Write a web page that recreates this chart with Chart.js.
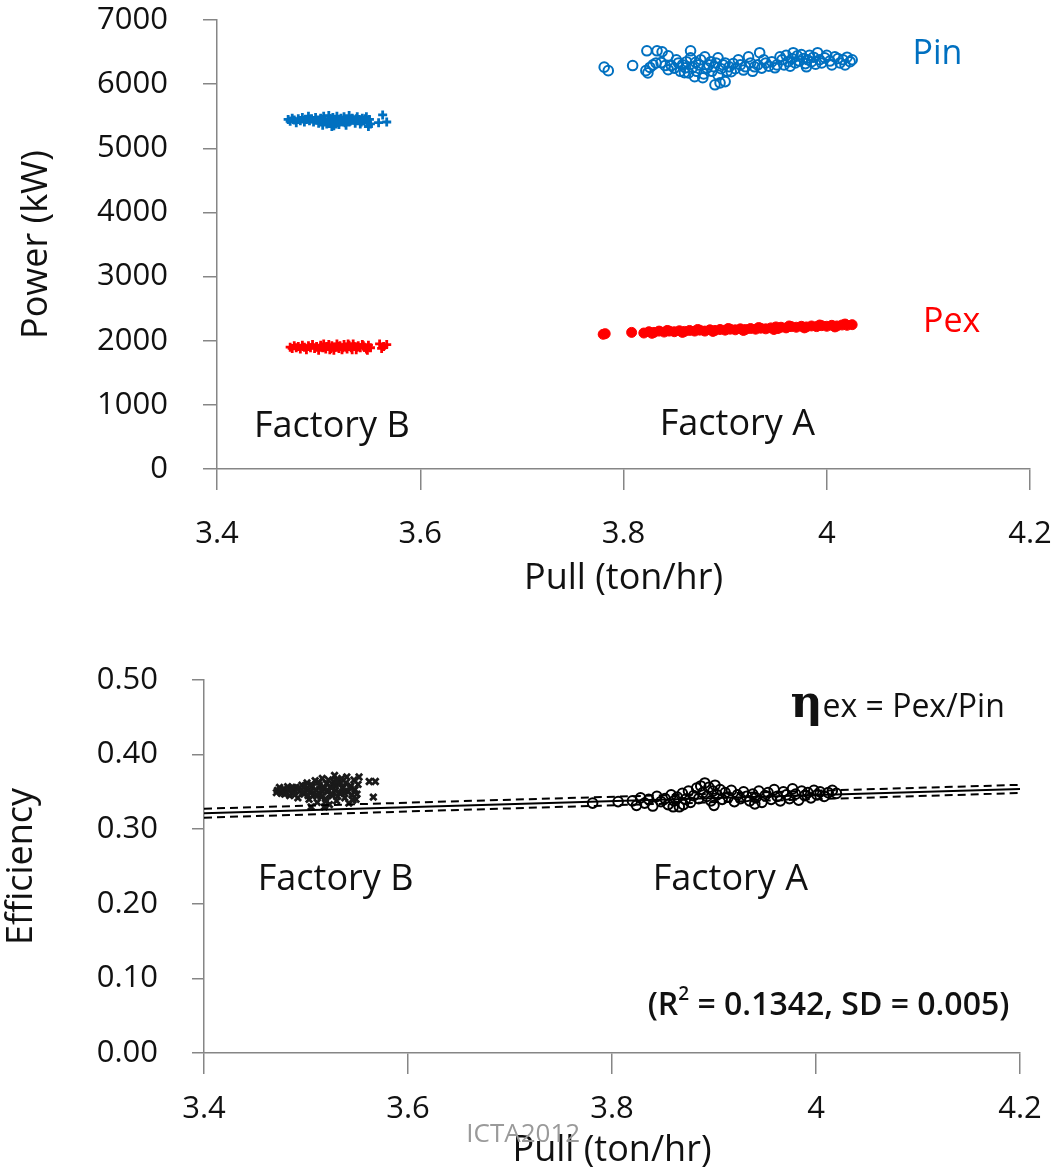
<!DOCTYPE html>
<html>
<head>
<meta charset="utf-8">
<script src="https://cdn.jsdelivr.net/npm/chart.js@4.4.1/dist/chart.umd.min.js"></script>
<style>
  html, body { margin: 0; padding: 0; background: #fff; }
  #wrap { position: relative; width: 1060px; height: 1168px; overflow: hidden; }
  #wrap canvas { position: absolute; left: 0; display: block; }
</style>
</head>
<body>
<div id="wrap">
  <canvas id="power" width="1060" height="620" style="top:0"></canvas>
  <canvas id="eff" width="1060" height="560" style="top:620px"></canvas>
</div>
<script>
/* Power and efficiency against pull rate, Factory A and Factory B.
   Points. */

// ---- top chart: power (kW) vs pull (ton/hr) ----
var pinB = [
  [3.470,5450],[3.472,5420],[3.474,5470],[3.476,5440],[3.478,5400],[3.480,5460],[3.482,5430],
  [3.484,5480],[3.486,5410],[3.488,5450],[3.490,5500],[3.491,5430],[3.493,5460],[3.495,5410],
  [3.497,5480],[3.499,5440],[3.500,5390],[3.502,5470],[3.503,5420],[3.505,5500],[3.506,5450],
  [3.508,5380],[3.509,5430],[3.510,5510],[3.511,5460],[3.512,5400],[3.514,5480],[3.515,5350],
  [3.516,5440],[3.518,5500],[3.519,5420],[3.520,5370],[3.522,5470],[3.523,5430],[3.525,5490],
  [3.526,5400],[3.528,5450],[3.530,5510],[3.531,5420],[3.533,5470],[3.535,5440],[3.536,5390],
  [3.538,5490],[3.540,5450],[3.542,5410],[3.543,5470],[3.545,5430],[3.547,5490],[3.548,5400],
  [3.550,5450],[3.551,5380],[3.563,5520],[3.559,5400],[3.567,5410],
  [3.504,5360],[3.513,5340],[3.517,5380],[3.521,5410],[3.527,5360],[3.532,5440],[3.537,5460],
  [3.541,5380],[3.546,5460],[3.549,5340]
];
var pexB = [
  [3.472,1900],[3.474,1880],[3.476,1920],[3.478,1890],[3.480,1910],[3.482,1870],[3.484,1930],
  [3.486,1900],[3.488,1860],[3.490,1920],[3.492,1890],[3.494,1940],[3.496,1880],[3.498,1910],
  [3.500,1850],[3.502,1930],[3.504,1890],[3.505,1950],[3.507,1870],[3.508,1910],[3.510,1940],
  [3.512,1880],[3.513,1920],[3.515,1850],[3.516,1900],[3.518,1950],[3.520,1880],[3.521,1920],
  [3.523,1860],[3.525,1940],[3.527,1900],[3.528,1870],[3.530,1930],[3.532,1890],[3.534,1950],
  [3.535,1910],[3.537,1860],[3.539,1920],[3.541,1890],[3.543,1940],[3.545,1900],[3.547,1870],
  [3.549,1930],[3.551,1890],[3.560,1950],[3.564,1910],[3.567,1940],[3.562,1880],
  [3.506,1900],[3.511,1860],[3.519,1910],[3.524,1890],[3.529,1950],[3.533,1860],[3.538,1900],
  [3.544,1920],[3.548,1850]
];
var pinA = [
  [3.781,6265],[3.785,6210],[3.809,6290],[3.823,6520],[3.833,6520],[3.838,6505],[3.844,6440],
  [3.822,6210],[3.824,6175],[3.832,6330],[3.837,6335],[3.844,6225],[3.854,6330],[3.866,6520],
  [3.866,6410],[3.861,6255],[3.864,6175],[3.870,6115],[3.878,6100],[3.890,5990],[3.895,6020],
  [3.900,6040],[3.880,6425],[3.886,6350],[3.893,6410],[3.900,6330],[3.906,6195],[3.913,6380],
  [3.920,6270],[3.923,6425],[3.929,6270],[3.934,6490],[3.940,6330],[3.949,6255],[3.954,6425],
  [3.962,6350],[3.967,6490],[3.975,6460],[3.981,6380],[3.980,6270],[3.991,6490],[3.998,6410],
  [4.008,6425],[4.016,6380],[4.018,6300],[4.023,6350],[4.025,6380],
  [3.850,6250],[3.856,6200],[3.858,6300],[3.862,6350],[3.868,6260],[3.872,6200],[3.874,6300],
  [3.876,6380],[3.879,6160],[3.882,6250],[3.884,6300],[3.887,6200],[3.889,6270],[3.891,6330],
  [3.893,6140],[3.896,6240],[3.898,6300],[3.902,6200],[3.904,6270],[3.908,6320],[3.910,6240],
  [3.915,6300],[3.918,6220],[3.925,6330],[3.927,6200],[3.932,6300],[3.936,6250],[3.938,6380],
  [3.943,6280],[3.946,6350],[3.951,6300],[3.956,6380],[3.958,6300],[3.960,6450],[3.964,6280],
  [3.966,6400],[3.969,6330],[3.971,6440],[3.973,6360],[3.977,6400],[3.979,6320],[3.983,6450],
  [3.985,6350],[3.987,6420],[3.989,6310],[3.993,6380],[3.995,6330],[4.000,6450],[4.003,6360],
  [4.005,6300],[4.011,6400],[4.013,6330],[4.020,6420],[3.847,6290],[3.852,6380],[3.826,6260],
  [3.829,6300],[3.841,6290],[3.860,6180],[3.871,6340]
];
var pexA = [
  [3.780,2100],[3.782,2110],[3.808,2130],[3.820,2120],[3.825,2140],[3.830,2130],[3.835,2150],
  [3.840,2135],[3.845,2150],[3.850,2140],[3.855,2155],[3.860,2145],[3.865,2160],[3.870,2150],
  [3.875,2165],[3.880,2150],[3.885,2170],[3.890,2160],[3.895,2175],[3.900,2165],[3.905,2180],
  [3.910,2170],[3.915,2185],[3.920,2175],[3.925,2190],[3.930,2180],[3.935,2195],[3.940,2185],
  [3.945,2200],[3.950,2215],[3.952,2190],[3.955,2210],[3.960,2200],[3.965,2220],[3.970,2210],
  [3.975,2225],[3.980,2215],[3.985,2230],[3.990,2220],[3.995,2235],[4.000,2225],[4.005,2240],
  [4.010,2230],[4.015,2245],[4.020,2240],[4.025,2250],[3.828,2115],[3.858,2130],[3.888,2145],
  [3.918,2160],[3.948,2175],[3.978,2200],[4.008,2215],[3.843,2160],[3.873,2175],[3.903,2190],
  [3.933,2205],[3.963,2230],[3.993,2245],[4.018,2260]
];

// ---- bottom chart: efficiency vs pull ----
var effB = [
  [3.472,0.352],[3.474,0.356],[3.476,0.348],[3.478,0.354],[3.480,0.350],[3.482,0.357],[3.484,0.345],
  [3.486,0.353],[3.488,0.349],[3.490,0.356],[3.492,0.342],[3.494,0.351],[3.496,0.359],[3.498,0.347],
  [3.500,0.354],[3.501,0.362],[3.503,0.340],[3.504,0.350],[3.506,0.357],[3.507,0.345],[3.509,0.365],
  [3.510,0.352],[3.511,0.336],[3.513,0.359],[3.514,0.347],[3.516,0.368],[3.517,0.354],[3.519,0.341],
  [3.520,0.361],[3.521,0.350],[3.523,0.333],[3.524,0.357],[3.526,0.345],[3.527,0.364],[3.529,0.352],
  [3.530,0.338],[3.532,0.360],[3.533,0.348],[3.535,0.368],[3.536,0.355],[3.538,0.342],[3.539,0.362],
  [3.541,0.350],[3.542,0.335],[3.544,0.358],[3.545,0.346],[3.547,0.366],[3.548,0.353],[3.549,0.340],
  [3.551,0.360],[3.552,0.370],[3.550,0.347],[3.562,0.364],[3.568,0.364],[3.566,0.343],[3.505,0.330],
  [3.528,0.372],[3.518,0.330],
  [3.471,0.349],[3.475,0.353],[3.479,0.347],[3.483,0.352],[3.487,0.356],[3.489,0.346],[3.493,0.355],
  [3.497,0.350],[3.499,0.358],[3.502,0.345],[3.505,0.360],[3.508,0.349],[3.512,0.363],[3.515,0.343],
  [3.518,0.356],[3.522,0.366],[3.525,0.348],[3.528,0.358],[3.531,0.344],[3.534,0.362],[3.537,0.351],
  [3.540,0.370],[3.543,0.356],[3.546,0.339],[3.515,0.352],[3.525,0.355],[3.535,0.349],[3.510,0.345],
  [3.520,0.338],[3.530,0.365]
];
var effA = [
  [3.781,0.335],[3.806,0.337],[3.820,0.338],[3.824,0.332],[3.828,0.342],[3.832,0.335],[3.836,0.340],
  [3.840,0.331],[3.844,0.344],[3.848,0.337],[3.852,0.341],[3.855,0.333],[3.858,0.346],[3.861,0.338],
  [3.864,0.343],[3.866,0.330],[3.869,0.348],[3.872,0.340],[3.875,0.351],[3.877,0.336],[3.880,0.345],
  [3.883,0.355],[3.885,0.341],[3.887,0.358],[3.889,0.349],[3.891,0.362],[3.893,0.344],[3.895,0.356],
  [3.897,0.338],[3.899,0.351],[3.901,0.359],[3.903,0.346],[3.906,0.353],[3.908,0.340],[3.911,0.349],
  [3.914,0.343],[3.917,0.352],[3.920,0.337],[3.923,0.346],[3.926,0.341],[3.929,0.350],[3.932,0.344],
  [3.935,0.338],[3.938,0.347],[3.941,0.342],[3.944,0.351],[3.947,0.336],[3.950,0.345],[3.953,0.349],
  [3.956,0.340],[3.959,0.353],[3.962,0.344],[3.965,0.338],[3.968,0.350],[3.971,0.346],[3.974,0.341],
  [3.977,0.354],[3.980,0.347],[3.983,0.339],[3.986,0.351],[3.989,0.345],[3.992,0.349],[3.995,0.342],
  [3.998,0.352],[4.001,0.346],[4.004,0.350],[4.008,0.344],[4.012,0.349],[4.016,0.352],[4.020,0.348],
  [3.870,0.333],[3.860,0.330],[3.900,0.332],[3.940,0.334]
];
// regression line and its dashed band, ends at the axis limits
var fitX  = [3.4, 4.2];
var fitMid = [0.3215, 0.3540];
var fitHi  = [0.3275, 0.3595];
var fitLo  = [0.3155, 0.3485];

var BLUE = "#0070C0", RED = "#FF0000", INK = "#111111", AXIS = "#868686";
var FONT = "'Open Sans', 'Noto Sans', sans-serif";
Chart.defaults.font.family = FONT;
Chart.defaults.color = INK;

function pts(arr) { return arr.map(function (p) { return { x: p[0], y: p[1] }; }); }
function line(xs, ys) { return xs.map(function (x, i) { return { x: x, y: ys[i] }; }); }

function fontOf(n, p) {
  return (p.weight || n.weight || "normal") + " " + (p.size || n.size) + "px " + (p.family || n.family || FONT);
}

// free text placed in data coordinates
function notesPlugin(list) {
  return {
    id: "notes",
    afterDraw: function (chart) {
      var ctx = chart.ctx, xs = chart.scales.x, ys = chart.scales.y;
      list.forEach(function (n) {
        var px = xs.getPixelForValue(n.x), py = ys.getPixelForValue(n.y);
        var parts = n.parts || [{ t: n.text }];
        ctx.save();
        ctx.fillStyle = n.color || INK;
        ctx.textBaseline = n.baseline || "middle";
        ctx.textAlign = "left";
        var widths = parts.map(function (p) { ctx.font = fontOf(n, p); return ctx.measureText(p.t).width; });
        var total = widths.reduce(function (a, b) { return a + b; }, 0);
        var cx = n.align === "left" ? px : px - total / 2;
        parts.forEach(function (p, i) {
          ctx.font = fontOf(n, p);
          ctx.fillStyle = p.color || n.color || INK;
          ctx.fillText(p.t, cx, py + (p.dy || 0));
          cx += widths[i];
        });
        ctx.restore();
      });
    }
  };
}

function xAxis(tickLen, pad, titlePadBottom, height) {
  return {
    type: "linear", min: 3.4, max: 4.2,
    border: { color: AXIS, width: 1.5 },
    grid: { drawOnChartArea: false, color: AXIS, lineWidth: 1.5, tickLength: tickLen },
    ticks: { stepSize: 0.2, padding: pad, color: INK, maxRotation: 0, autoSkip: false,
             font: { size: 31 },
             callback: function (v) { return String(Math.round(v * 10) / 10); } },
    title: { display: true, text: "Pull (ton/hr)", color: INK, font: { size: 36 },
             padding: { top: 0, bottom: titlePadBottom } },
    // fixed box; end labels fit inside the layout padding
    afterFit: function (s) { s.height = height; s.paddingLeft = 0; s.paddingRight = 0; }
  };
}

function yAxis(max, step, fmt, text, tickLen, pad, titlePadTop, width) {
  return {
    type: "linear", min: 0, max: max,
    border: { color: AXIS, width: 1.5 },
    grid: { drawOnChartArea: false, color: AXIS, lineWidth: 1.5, tickLength: tickLen },
    ticks: { stepSize: step, padding: pad, color: INK, font: { size: 31 }, callback: fmt },
    title: { display: true, text: text, color: INK, font: { size: 36 },
             padding: { top: titlePadTop, bottom: 0 } },
    afterFit: function (s) { s.width = width; s.paddingTop = 0; s.paddingBottom = 0; }
  };
}

function scatterSet(data, style, color, radius, width, fill) {
  return {
    data: pts(data), pointStyle: style, pointRadius: radius, pointHoverRadius: radius,
    pointBorderWidth: width, borderColor: color,
    backgroundColor: fill ? color : "rgba(0,0,0,0)", showLine: false
  };
}

function fitSet(ys, dashed) {
  return {
    data: line(fitX, ys), showLine: true, pointRadius: 0, borderColor: "#000",
    borderWidth: 2, borderDash: dashed ? [8, 5] : [], fill: false
  };
}

var common = {
  responsive: false, animation: false,
  plugins: { legend: { display: false }, tooltip: { enabled: false } }
};

new Chart(document.getElementById("power").getContext("2d"), {
  type: "scatter",
  data: { datasets: [
    scatterSet(pinB, "cross", BLUE, 4.5, 2.8, true),
    scatterSet(pexB, "cross", RED, 4.5, 2.8, true),
    scatterSet(pinA, "circle", BLUE, 4.8, 2, false),
    scatterSet(pexA, "circle", RED, 5, 1, true)
  ] },
  options: Object.assign({}, common, {
    layout: { padding: { top: 20, right: 30, left: 0, bottom: 0 } },
    scales: {
      x: xAxis(21, 26, 20, 151),
      y: yAxis(7000, 1000, function (v) { return String(v); }, "Power (kW)", 14, 35, 15, 217)
    }
  }),
  plugins: [notesPlugin([
    { text: "Pin", x: 4.109, y: 6459, color: BLUE, size: 34 },
    { text: "Pex", x: 4.123, y: 2293, color: RED, size: 34 },
    { text: "Factory B", x: 3.513, y: 655, size: 36 },
    { text: "Factory A", x: 3.912, y: 686, size: 36 }
  ])]
});

new Chart(document.getElementById("eff").getContext("2d"), {
  type: "scatter",
  data: { datasets: [
    fitSet(fitMid, false),
    fitSet(fitHi, true),
    fitSet(fitLo, true),
    scatterSet(effB, "crossRot", "#1a1a1a", 4.5, 2.8, true),
    scatterSet(effA, "circle", "#000", 4.8, 2, false)
  ] },
  options: Object.assign({}, common, {
    layout: { padding: { top: 60, right: 40, left: 0, bottom: 0 } },
    scales: {
      x: xAxis(21, 17, 8, 127),
      y: yAxis(0.5, 0.1, function (v) { return v.toFixed(2); }, "Efficiency", 12, 34, 0, 204)
    }
  }),
  plugins: [notesPlugin([
    { align: "left", baseline: "alphabetic", x: 3.975, y: 0.450, size: 32, parts: [
      { t: "\u03b7", size: 44, weight: "bold", family: "'DejaVu Serif', serif" },
      { t: "ex = Pex/Pin" }
    ] },
    { text: "Factory B", x: 3.529, y: 0.232, size: 36 },
    { text: "Factory A", x: 3.916, y: 0.232, size: 36 },
    { align: "left", baseline: "alphabetic", x: 3.835, y: 0.051, size: 32, weight: "600", parts: [
      { t: "(R" }, { t: "2", size: 19, dy: -15 }, { t: " = 0.1342, SD = 0.005)" }
    ] },
    { text: "ICTA2012", x: 3.713, y: -0.109, size: 26, color: "#9a9a9a" }
  ])]
});
</script>
</body>
</html>
